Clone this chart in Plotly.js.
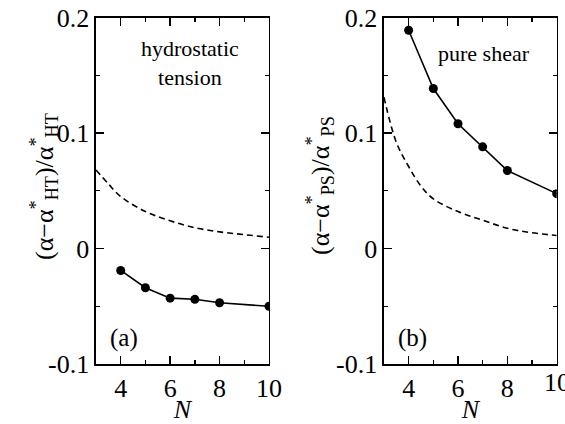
<!DOCTYPE html>
<html>
<head>
<meta charset="utf-8">
<script src="https://cdn.plot.ly/plotly-3.0.1.min.js"></script>
<style>html,body{margin:0;padding:0;background:#fff;}#chart{width:565px;height:424px;}</style>
</head>
<body>
<div id="chart"></div>
<script>
// Panel (a): hydrostatic tension
const nPoints = [4, 5, 6, 7, 8, 10];
const htSolid = [-0.019, -0.034, -0.043, -0.044, -0.047, -0.050];
const htDashN = [3, 3.5, 4, 5, 6, 7, 8, 9, 10];
const htDash = [0.068, 0.056, 0.045, 0.032, 0.024, 0.018, 0.0144, 0.012, 0.0097];
// Panel (b): pure shear
const psSolid = [0.189, 0.1385, 0.108, 0.088, 0.0675, 0.0475];
const psDashN = [3, 3.5, 4, 4.5, 5, 6, 7, 8, 9, 10];
const psDash = [0.131, 0.092, 0.071, 0.054, 0.043, 0.032, 0.0245, 0.0175, 0.0136, 0.0113];
// Axis ticks
const xTicks = [4, 6, 8, 10];
const xTickText = ['4', '6', '8', '10'];
const yTicks = [-0.1, 0, 0.1, 0.2];
const yTickText = ['-0.1', '0', '0.1', '0.2'];
// Axis titles
const yTitleA = '(α−α<sup>*</sup><sub>HT</sub>)/α<sup>*</sup><sub>HT</sub>';
const yTitleB = '(α−α<sup>*</sup><sub>PS</sub>)/α<sup>*</sup><sub>PS</sub>';

const FONT = '"Liberation Serif", "Times New Roman", Times, serif';

const traces = [
  {x: htDashN, y: htDash, xaxis: 'x', yaxis: 'y', mode: 'lines', line: {color: '#000', width: 1.6, dash: '6px,4px', shape: 'spline'}, hoverinfo: 'skip'},
  {x: nPoints, y: htSolid, xaxis: 'x', yaxis: 'y', mode: 'lines+markers', line: {color: '#000', width: 1.6}, marker: {color: '#000', size: 9}},
  {x: psDashN, y: psDash, xaxis: 'x2', yaxis: 'y2', mode: 'lines', line: {color: '#000', width: 1.6, dash: '6px,4px', shape: 'spline'}, hoverinfo: 'skip'},
  {x: nPoints, y: psSolid, xaxis: 'x2', yaxis: 'y2', mode: 'lines+markers', line: {color: '#000', width: 1.6}, marker: {color: '#000', size: 9}}
];

function xax(domain) {
  return {
    domain: domain, range: [3, 10], tickvals: xTicks, ticktext: xTickText,
    ticks: 'inside', ticklen: 8, tickwidth: 1.3, tickcolor: '#000',
    showline: true, linecolor: '#000', linewidth: 1.5, mirror: 'ticks',
    showgrid: false, zeroline: false,
    minor: {tickvals: [3, 5, 7, 9], ticks: 'inside', ticklen: 4, tickwidth: 1.3, tickcolor: '#000', showgrid: false},
    tickfont: {family: FONT, size: 26, color: '#000'},
    title: {text: '<i>N</i>', font: {family: FONT, size: 26, color: '#000'}, standoff: 0}
  };
}
function yax(anchor) {
  return {
    domain: [0.1415, 0.9587], range: [-0.1, 0.2], anchor: anchor,
    tickvals: yTicks, ticktext: yTickText,
    ticks: 'inside', ticklen: 8, tickwidth: 1.3, tickcolor: '#000',
    showline: true, linecolor: '#000', linewidth: 1.5, mirror: 'ticks',
    showgrid: false, zeroline: false,
    minor: {tickvals: [-0.05, 0.05, 0.15], ticks: 'inside', ticklen: 4, tickwidth: 1.3, tickcolor: '#000', showgrid: false},
    tickfont: {family: FONT, size: 26, color: '#000'}
  };
}

const layout = {
  width: 565, height: 424,
  margin: {l: 0, r: 0, t: 0, b: 0},
  paper_bgcolor: '#fff', plot_bgcolor: '#fff',
  showlegend: false,
  font: {family: FONT, color: '#000'},
  xaxis: Object.assign(xax([0.1699, 0.4761]), {anchor: 'y'}),
  yaxis: yax('x'),
  xaxis2: Object.assign(xax([0.6796, 0.9853]), {anchor: 'y2', tickvals: xTicks.slice(0, 3), ticktext: xTickText.slice(0, 3)}),
  yaxis2: yax('x2'),
  annotations: [
    {xref: 'x2', yref: 'paper', x: xTicks[3], y: 1 - 364/424, yanchor: 'top', yshift: -2, text: xTickText[3], showarrow: false, font: {family: FONT, size: 26, color: '#000'}},
    {xref: 'paper', yref: 'paper', x: 44/565, y: 1 - 187/424, xanchor: 'center', yanchor: 'middle', textangle: -90, text: yTitleA, showarrow: false, font: {family: FONT, size: 26, color: '#000'}},
    {xref: 'paper', yref: 'paper', x: 320/565, y: 1 - 186/424, xanchor: 'center', yanchor: 'middle', textangle: -90, text: yTitleB, showarrow: false, font: {family: FONT, size: 26, color: '#000'}},
    {xref: 'paper', yref: 'paper', x: 190/565, y: 1 - 63/424, xanchor: 'center', yanchor: 'middle', text: 'hydrostatic<br>tension', showarrow: false, font: {family: FONT, size: 22, color: '#000'}, align: 'center'},
    {xref: 'paper', yref: 'paper', x: 484/565, y: 1 - 53/424, xanchor: 'center', yanchor: 'middle', text: 'pure shear', showarrow: false, font: {family: FONT, size: 22, color: '#000'}},
    {xref: 'paper', yref: 'paper', x: 124/565, y: 1 - 338/424, xanchor: 'center', yanchor: 'middle', text: '(a)', showarrow: false, font: {family: FONT, size: 25, color: '#000'}},
    {xref: 'paper', yref: 'paper', x: 412/565, y: 1 - 338/424, xanchor: 'center', yanchor: 'middle', text: '(b)', showarrow: false, font: {family: FONT, size: 25, color: '#000'}}
  ]
};

Plotly.newPlot('chart', traces, layout, {displayModeBar: false, staticPlot: true});
</script>
</body>
</html>
